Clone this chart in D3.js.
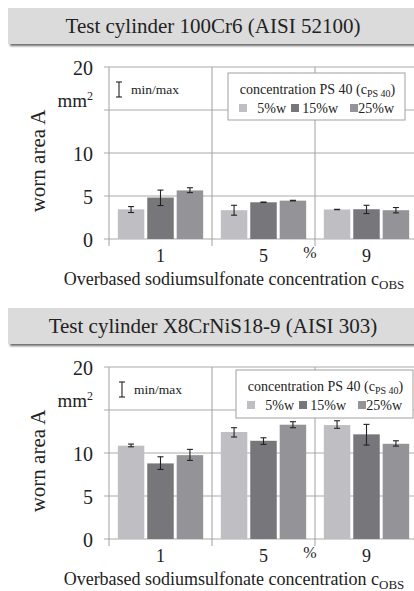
<!DOCTYPE html>
<html><head><meta charset="utf-8">
<script src="https://cdn.jsdelivr.net/npm/d3@7"></script>
<style>html,body{margin:0;padding:0;background:#fff;}svg{display:block;} svg text{font-family:"Liberation Serif","Times New Roman",Times,serif;}</style>
</head><body>
<script>
// ---- data ----
const categories = ["1", "5", "9"];
const series = ["5%w", "15%w", "25%w"];
const yTicks = [0, 5, 10, 20];

// Test cylinder 100Cr6 (AISI 52100)
const cr6Mean5  = [3.45, 3.35, 3.43];
const cr6Mean15 = [4.82, 4.27, 3.46];
const cr6Mean25 = [5.65, 4.46, 3.35];
const cr6Min5   = [3.08, 2.77, 3.41];
const cr6Max5   = [3.77, 3.92, 3.45];
const cr6Min15  = [3.89, 4.24, 2.96];
const cr6Max15  = [5.69, 4.30, 3.92];
const cr6Min25  = [5.39, 4.43, 3.04];
const cr6Max25  = [5.96, 4.50, 3.66];

// Test cylinder X8CrNiS18-9 (AISI 303)
const x8Mean5  = [10.85, 12.44, 13.25];
const x8Mean15 = [8.79, 11.42, 12.17];
const x8Mean25 = [9.75, 13.29, 11.07];
const x8Min5   = [10.72, 11.86, 12.87];
const x8Max5   = [11.04, 12.94, 13.75];
const x8Min15  = [8.09, 11.00, 10.92];
const x8Max15  = [9.56, 11.77, 13.33];
const x8Min25  = [9.14, 12.94, 10.80];
const x8Max25  = [10.42, 13.64, 11.42];

const colors = ["#bfbfc3", "#77777b", "#949498"];
const FONT = "Liberation Serif, Times New Roman, Times, serif";

const W = 414, H = 591;
const svg = d3.select("body").append("svg").attr("width", W).attr("height", H)
  .attr("font-family", FONT);

const defs = svg.append("defs");
defs.append("filter").attr("id", "blur").attr("x", "-5%").attr("y", "-50%").attr("width", "110%").attr("height", "200%")
  .append("feGaussianBlur").attr("stdDeviation", 1.2);

function buildRows(means, mins, maxs) {
  return categories.map((c, i) => ({
    cat: c,
    vals: series.map((s, j) => ({ s, v: means[j][i], lo: mins[j][i], hi: maxs[j][i] }))
  }));
}

const panels = [
  {
    title: "Test cylinder 100Cr6 (AISI 52100)",
    rows: buildRows([cr6Mean5, cr6Mean15, cr6Mean25], [cr6Min5, cr6Min15, cr6Min25], [cr6Max5, cr6Max15, cr6Max25]),
    off: 0,
    legend: { x: 228, y: 73, w: 177, h: 47 },
    mm: { x: 119, y: 82 }
  },
  {
    title: "Test cylinder X8CrNiS18-9 (AISI 303)",
    rows: buildRows([x8Mean5, x8Mean15, x8Mean25], [x8Min5, x8Min15, x8Min25], [x8Max5, x8Max15, x8Max25]),
    off: 300,
    legend: { x: 236, y: 370, w: 177, h: 48 },
    mm: { x: 122, y: 382 }
  }
];

panels.forEach(p => {
  const g = svg.append("g");
  const o = p.off;

  // header band
  g.append("rect").attr("x", 10).attr("y", o + 10).attr("width", 410).attr("height", 36)
    .attr("fill", "#6a6a6a").attr("filter", "url(#blur)");
  g.append("rect").attr("x", 8).attr("y", o + 8).attr("width", 410).attr("height", 36)
    .attr("fill", "#dbdbdb");
  g.append("text").attr("x", 213).attr("y", o + 33).attr("text-anchor", "middle")
    .attr("font-size", 21).attr("fill", "#222").text(p.title);

  const y = d3.scaleLinear().domain([0, 20]).range([o + 239, o + 67]);
  const x0 = d3.scaleBand().domain(categories).range([109, 418]);
  const x1 = d3.scaleBand().domain(series).range([0, x0.bandwidth()]).paddingInner(0.1).paddingOuter(0.3);

  // gridlines + ticks
  g.append("g").selectAll("line").data([0, 5, 10, 15, 20]).join("line")
    .attr("x1", 104).attr("x2", W).attr("y1", d => y(d)).attr("y2", d => y(d))
    .attr("stroke", "#ababab").attr("stroke-width", 1);
  // category boundaries (left axis + separators)
  const bounds = [109].concat(categories.map(c => x0(c) + x0.bandwidth())).slice(0, 3);
  g.append("g").selectAll("line").data(bounds).join("line")
    .attr("x1", d => d).attr("x2", d => d).attr("y1", y(20)).attr("y2", y(0) + 7)
    .attr("stroke", "#a0a0a0").attr("stroke-width", 1);

  // y axis labels
  const ya = g.append("g").attr("transform", `translate(93,0)`)
    .call(d3.axisLeft(y).tickValues(yTicks).tickSize(0).tickPadding(0).tickFormat(d3.format("d")));
  ya.attr("font-family", FONT);
  ya.select(".domain").remove();
  ya.selectAll("text").attr("font-size", 20).attr("fill", "#222")
    .attr("x", 0).attr("dy", "0.35em");
  const mm = g.append("text").attr("x", 93).attr("y", o + 107).attr("text-anchor", "end")
    .attr("font-size", 19).attr("fill", "#222");
  mm.append("tspan").text("mm");
  mm.append("tspan").attr("font-size", 12).attr("dy", -7).text("2");

  // y title
  g.append("text").attr("transform", `translate(45,${o + 161}) rotate(-90)`)
    .attr("text-anchor", "middle").attr("font-size", 21).attr("fill", "#222").text("worn area A");

  // bars
  const grp = g.append("g").selectAll("g").data(p.rows).join("g")
    .attr("transform", d => `translate(${x0(d.cat)},0)`);
  grp.selectAll("rect").data(d => d.vals).join("rect")
    .attr("x", d => x1(d.s)).attr("width", x1.bandwidth())
    .attr("y", d => y(d.v)).attr("height", d => y(0) - y(d.v))
    .attr("fill", (d, i) => colors[i]);
  // error bars
  const eb = grp.selectAll("g.eb").data(d => d.vals).join("g").attr("class", "eb")
    .attr("stroke", "#222").attr("stroke-width", 1.1);
  eb.append("line").attr("x1", d => x1(d.s) + x1.bandwidth() / 2).attr("x2", d => x1(d.s) + x1.bandwidth() / 2)
    .attr("y1", d => y(d.lo)).attr("y2", d => y(d.hi));
  eb.append("line").attr("x1", d => x1(d.s) + x1.bandwidth() / 2 - 3).attr("x2", d => x1(d.s) + x1.bandwidth() / 2 + 3)
    .attr("y1", d => y(d.lo)).attr("y2", d => y(d.lo));
  eb.append("line").attr("x1", d => x1(d.s) + x1.bandwidth() / 2 - 3).attr("x2", d => x1(d.s) + x1.bandwidth() / 2 + 3)
    .attr("y1", d => y(d.hi)).attr("y2", d => y(d.hi));

  // x tick labels
  g.append("g").selectAll("text").data(categories).join("text")
    .attr("x", d => x0(d) + x0.bandwidth() / 2).attr("y", o + 262)
    .attr("text-anchor", "middle").attr("font-size", 18).attr("fill", "#222").text(d => d);
  g.append("text").attr("x", 310).attr("y", o + 258).attr("text-anchor", "middle")
    .attr("font-size", 16).attr("fill", "#222").text("%");

  // x title
  const xt = g.append("text").attr("x", 234).attr("y", o + 285).attr("text-anchor", "middle")
    .attr("font-size", 18).attr("fill", "#222");
  xt.append("tspan").text("Overbased sodiumsulfonate concentration c");
  xt.append("tspan").attr("font-size", 13).attr("dy", 3.5).text("OBS");

  // min/max marker
  const m = p.mm;
  const mg = g.append("g").attr("stroke", "#222").attr("stroke-width", 1.1);
  mg.append("line").attr("x1", m.x).attr("x2", m.x).attr("y1", m.y).attr("y2", m.y + 15);
  mg.append("line").attr("x1", m.x - 3).attr("x2", m.x + 3).attr("y1", m.y).attr("y2", m.y);
  mg.append("line").attr("x1", m.x - 3).attr("x2", m.x + 3).attr("y1", m.y + 15).attr("y2", m.y + 15);
  g.append("text").attr("x", m.x + 12).attr("y", m.y + 12).attr("font-size", 13.5).attr("fill", "#222").text("min/max");

  // legend
  const L = p.legend;
  const lg = g.append("g").attr("transform", `translate(${L.x},${L.y})`);
  lg.append("rect").attr("width", L.w).attr("height", L.h).attr("fill", "#fff")
    .attr("stroke", "#a0a0a0").attr("stroke-width", 1);
  const lt = lg.append("text").attr("x", L.w / 2 + 1).attr("y", 21).attr("text-anchor", "middle")
    .attr("font-size", 14).attr("fill", "#222");
  lt.append("tspan").text("concentration PS 40 (c");
  lt.append("tspan").attr("font-size", 10).attr("dy", 3).text("PS 40");
  lt.append("tspan").attr("dy", -3).text(")");
  const swX = [11, 63, 122];
  const txX = [58, 110, 166];
  series.forEach((s, i) => {
    lg.append("rect").attr("x", swX[i]).attr("y", 31).attr("width", 8).attr("height", 8).attr("fill", colors[i]);
    lg.append("text").attr("x", txX[i]).attr("y", 39.5).attr("text-anchor", "end")
      .attr("font-size", 14).attr("fill", "#222").text(s);
  });
});
</script>
</body></html>
